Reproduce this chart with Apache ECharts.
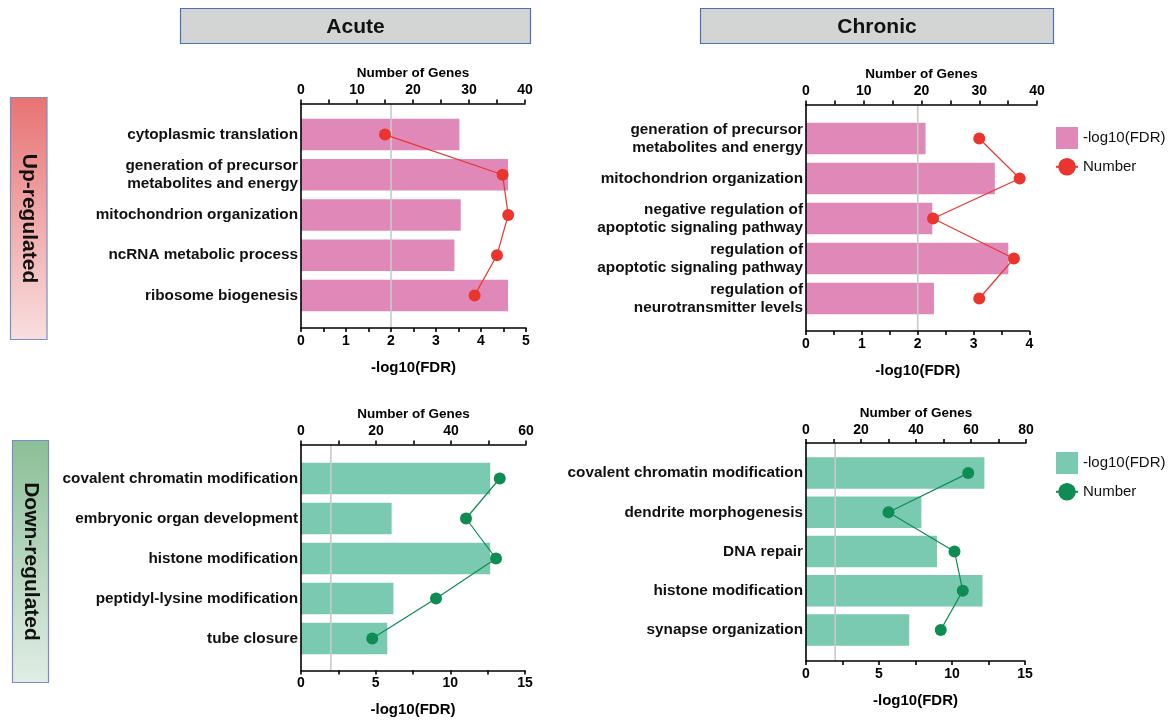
<!DOCTYPE html>
<html>
<head>
<meta charset="utf-8">
<script src="https://cdn.jsdelivr.net/npm/echarts@6/dist/echarts.min.js"></script>
<style>html,body{margin:0;background:#fff}#main{width:1170px;height:720px}</style>
</head>
<body>
<div id="main"></div>
<script>
// GO terms, -log10(FDR) (bars) and number of genes (dots)
var acuteUpTerms = ['cytoplasmic translation', 'generation of precursor\nmetabolites and energy', 'mitochondrion organization', 'ncRNA metabolic process', 'ribosome biogenesis']
var acuteUpFdr = [3.52, 4.6, 3.55, 3.41, 4.6]
var acuteUpGenes = [15, 36, 37, 35, 31]

var chronicUpTerms = ['generation of precursor\nmetabolites and energy', 'mitochondrion organization', 'negative regulation of\napoptotic signaling pathway', 'regulation of\napoptotic signaling pathway', 'regulation of\nneurotransmitter levels']
var chronicUpFdr = [2.14, 3.38, 2.26, 3.62, 2.29]
var chronicUpGenes = [30, 37, 22, 36, 30]

var acuteDownTerms = ['covalent chromatin modification', 'embryonic organ development', 'histone modification', 'peptidyl-lysine modification', 'tube closure']
var acuteDownFdr = [12.67, 6.07, 12.67, 6.19, 5.78]
var acuteDownGenes = [53, 44, 52, 36, 19]

var chronicDownTerms = ['covalent chromatin modification', 'dendrite morphogenesis', 'DNA repair', 'histone modification', 'synapse organization']
var chronicDownFdr = [12.22, 7.9, 8.97, 12.09, 7.07]
var chronicDownGenes = [59, 30, 54, 57, 49]

var threshold = 2   // FDR = 0.01

var font = 'Liberation Sans'
var colors = {
    Up: {bar: '#E089B9', dot: '#E9352D'},
    Down: {bar: '#7AC9B1', dot: '#0E8C52'}
}

var panels = [
    {grp: 'Up', terms: acuteUpTerms, fdr: acuteUpFdr, genes: acuteUpGenes, fdrMax: 5, fdrStep: 1, geneMax: 40, geneStep: 10,
        left: 301, wB: 225, wT: 224, axTop: 103.5, axBot: 328, top: 114.5, bot: 315.5},
    {grp: 'Up', terms: chronicUpTerms, fdr: chronicUpFdr, genes: chronicUpGenes, fdrMax: 4, fdrStep: 1, geneMax: 40, geneStep: 10,
        left: 806, wB: 223.5, wT: 231, axTop: 104.5, axBot: 331, top: 118.5, bot: 318.5},
    {grp: 'Down', terms: acuteDownTerms, fdr: acuteDownFdr, genes: acuteDownGenes, fdrMax: 15, fdrStep: 5, geneMax: 60, geneStep: 20,
        left: 301, wB: 224, wT: 225, axTop: 444.5, axBot: 670.5, top: 458.5, bot: 658.5},
    {grp: 'Down', terms: chronicDownTerms, fdr: chronicDownFdr, genes: chronicDownGenes, fdrMax: 15, fdrStep: 5, geneMax: 80, geneStep: 20,
        left: 806, wB: 219, wT: 220, axTop: 443, axBot: 661, top: 453.5, bot: 649.5}
]

var axisLineStyle = {color: '#000', width: 1.6}
var tickLabel = {color: '#000', fontFamily: font, fontWeight: 'bold', fontSize: 14, margin: 6}

var grid = [], xAxis = [], yAxis = [], series = []

panels.forEach(function (p, i) {
    var g = i * 3
    // frame grid: bottom axis, left axis line, threshold
    grid.push({left: p.left, width: p.wB, top: p.axTop, height: p.axBot - p.axTop})
    // bars grid
    grid.push({left: p.left, width: p.wB, top: p.top, height: p.bot - p.top})
    // genes grid (top axis)
    grid.push({left: p.left, width: p.wT, top: p.top, height: p.bot - p.top})

    xAxis.push({
        gridIndex: g, type: 'value', position: 'bottom', min: 0, max: p.fdrMax, interval: p.fdrStep,
        axisLine: {show: true, onZero: false, lineStyle: axisLineStyle},
        axisTick: {show: true, length: 4, lineStyle: axisLineStyle},
        minorTick: {show: true, splitNumber: 2, length: 4, lineStyle: axisLineStyle},
        axisLabel: tickLabel,
        splitLine: {show: false},
        name: '-log10(FDR)', nameLocation: 'middle', nameGap: 32,
        nameTextStyle: {color: '#000', fontFamily: font, fontWeight: 'bold', fontSize: 15},
        z: 10
    })
    xAxis.push({gridIndex: g + 1, type: 'value', min: 0, max: p.fdrMax, show: false})
    xAxis.push({
        gridIndex: g + 2, type: 'value', position: 'top', offset: p.top - p.axTop,
        min: 0, max: p.geneMax, interval: p.geneStep,
        axisLine: {show: true, onZero: false, lineStyle: axisLineStyle},
        axisTick: {show: true, length: 4, lineStyle: axisLineStyle},
        minorTick: {show: true, splitNumber: 2, length: 4, lineStyle: axisLineStyle},
        axisLabel: tickLabel,
        splitLine: {show: false},
        name: 'Number of Genes', nameLocation: 'middle', nameGap: 23,
        nameTextStyle: {color: '#000', fontFamily: font, fontWeight: 'bold', fontSize: 13.5},
        z: 10
    })

    yAxis.push({
        gridIndex: g, type: 'value', min: 0, max: 1,
        axisLine: {show: true, onZero: false, lineStyle: axisLineStyle},
        axisTick: {show: false}, axisLabel: {show: false}, splitLine: {show: false},
        z: 10
    })
    yAxis.push({
        gridIndex: g + 1, type: 'category', inverse: true, data: p.terms,
        axisLine: {show: false}, axisTick: {show: false},
        axisLabel: {color: '#111', fontFamily: font, fontWeight: 'bold', fontSize: 15.3, lineHeight: 18, margin: 3}
    })
    yAxis.push({gridIndex: g + 2, type: 'category', inverse: true, data: p.terms, show: false})

    series.push({
        type: 'line', xAxisIndex: g, yAxisIndex: g, silent: true,
        data: [[threshold, 0], [threshold, 1]],
        symbol: 'none', lineStyle: {color: '#C9C9C9', width: 1.6}, z: 3
    })
    series.push({
        name: p.grp + ' -log10(FDR)', type: 'bar', xAxisIndex: g + 1, yAxisIndex: g + 1,
        data: p.fdr, barWidth: 31.5,
        itemStyle: {color: colors[p.grp].bar}, z: 2
    })
    series.push({
        name: p.grp + ' Number', type: 'line', xAxisIndex: g + 2, yAxisIndex: g + 2,
        data: p.genes, symbol: 'circle', symbolSize: 12,
        itemStyle: {color: colors[p.grp].dot},
        lineStyle: {color: colors[p.grp].dot, width: 1.2}, z: 4
    })
})

function makeLegend(grp, top) {
    return {
        orient: 'vertical', left: 1055, top: top, padding: 0, itemWidth: 22, itemHeight: 22, itemGap: 9,
        data: [{name: grp + ' -log10(FDR)', icon: 'rect'}, {name: grp + ' Number'}],
        formatter: function (n) { return n.replace(/^\S+ /, '') },
        textStyle: {color: '#111', fontFamily: font, fontSize: 15}
    }
}

function header(x, w, text) {
    return [
        {type: 'rect', shape: {x: x, y: 8.5, width: w, height: 35}, style: {fill: '#D3D4D4', stroke: '#4F6FB2', lineWidth: 1.2}},
        {type: 'text', x: x + w / 2, y: 27, style: {text: text, fill: '#111', font: 'bold 21px ' + font, align: 'center', verticalAlign: 'middle'}}
    ]
}

function sideLabel(x, y, w, h, text, c0, c1) {
    return [
        {type: 'rect', shape: {x: x, y: y, width: w, height: h},
            style: {fill: {type: 'linear', x: 0, y: 0, x2: 0, y2: 1, colorStops: [{offset: 0, color: c0}, {offset: 1, color: c1}]},
                stroke: '#7C8CC8', lineWidth: 1.2}},
        {type: 'text', x: x + w / 2, y: y + h / 2, rotation: -Math.PI / 2,
            style: {text: text, fill: '#111', font: 'bold 21px ' + font, align: 'center', verticalAlign: 'middle'}}
    ]
}

var graphics = [].concat(
    header(180.5, 350, 'Acute'),
    header(700.5, 353, 'Chronic'),
    sideLabel(10.5, 97.5, 36.5, 242, 'Up-regulated', '#E87373', '#F8DFDF'),
    sideLabel(12.5, 440.5, 36, 242, 'Down-regulated', '#8BBF96', '#E0EDE5')
)

var chart = echarts.init(document.getElementById('main'))
chart.setOption({
    backgroundColor: '#fff',
    animation: false,
    grid: grid,
    xAxis: xAxis,
    yAxis: yAxis,
    legend: [makeLegend('Up', 127), makeLegend('Down', 452)],
    graphic: graphics,
    series: series
})
</script>
</body>
</html>
